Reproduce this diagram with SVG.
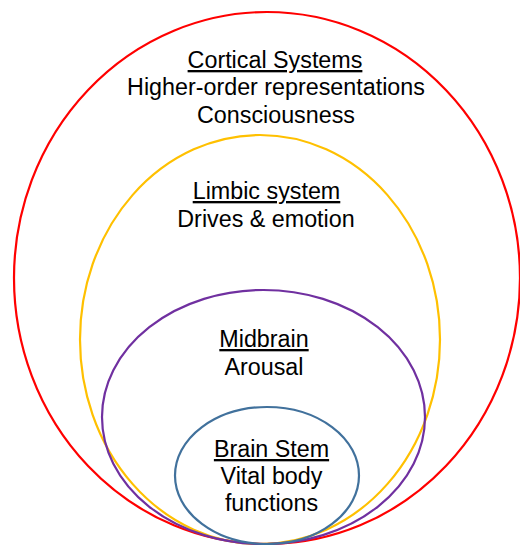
<svg xmlns="http://www.w3.org/2000/svg" width="520" height="545" viewBox="0 0 520 545">
<style>
.e{fill:none;stroke-width:2.2}
.t{font-family:"Liberation Sans",Arial,sans-serif;font-size:23.3px;fill:#000;text-anchor:middle}
.u{text-decoration:underline}
</style>
<rect width="520" height="545" fill="#fff"/>
<g id="cortical">
<ellipse class="e" cx="267" cy="278" rx="253" ry="266" stroke="#FF0000"/>
<text class="t u" x="275" y="68">Cortical Systems</text>
<text class="t" x="276" y="95">Higher-order representations</text>
<text class="t" x="276" y="123">Consciousness</text>
</g>
<g id="limbic">
<ellipse class="e" cx="260" cy="339.5" rx="180" ry="204.5" stroke="#FFC000"/>
<text class="t u" x="266.5" y="199">Limbic system</text>
<text class="t" x="266" y="227">Drives &amp; emotion</text>
</g>
<g id="midbrain">
<ellipse class="e" cx="263.5" cy="417" rx="161.5" ry="127" stroke="#7030A0"/>
<text class="t u" x="264" y="347">Midbrain</text>
<text class="t" x="264" y="375">Arousal</text>
</g>
<g id="brainstem">
<ellipse class="e" cx="267" cy="475.5" rx="92" ry="68.5" stroke="#41719C"/>
<text class="t u" x="271.5" y="457">Brain Stem</text>
<text class="t" x="271.5" y="484">Vital body</text>
<text class="t" x="271.5" y="511">functions</text>
</g>
<g id="connectors"/>
</svg>
